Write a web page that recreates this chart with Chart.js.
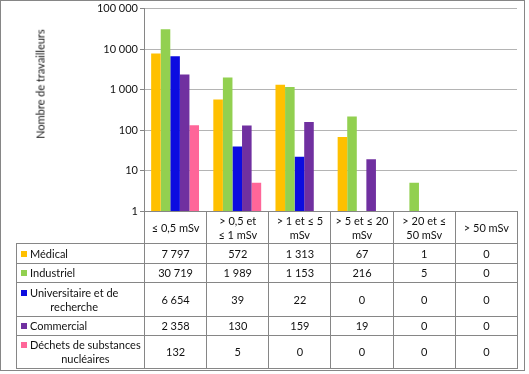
<!DOCTYPE html>
<html>
<head>
<meta charset="utf-8">
<script src="https://cdn.jsdelivr.net/npm/chart.js@4.4.1/dist/chart.umd.min.js"></script>
<style>
  html, body { margin: 0; padding: 0; background: #fff; }
  #wrap { position: relative; width: 529px; height: 374px; font-family: Lato, "Open Sans", sans-serif; color: #111; }
  #frame { position: absolute; left: 0; top: 0; width: 523px; height: 369px; border: 1px solid #868686; pointer-events: none; }
  #graph { position: absolute; left: 0; top: 0; }
  #titreY { position: absolute; left: 40px; top: 84px; transform: translate(-50%, -50%) rotate(-90deg); font-size: 11px; white-space: nowrap; }
  #tableau { position: absolute; left: 16px; top: 211px; border-collapse: collapse; table-layout: fixed; width: 501px; font-size: 11px; line-height: 14px; }
  #tableau td { border: 1px solid #868686; text-align: center; padding: 0; }
  #tableau td.vide { border: none; border-right: 1px solid #868686; }
  #tableau td.serie { text-align: left; padding-left: 4px; }
  .cle { display: inline-block; width: 6px; height: 6px; margin-right: 3px; vertical-align: top; margin-top: 4px; }
  .nom { display: inline-block; text-align: center; vertical-align: top; }
</style>
</head>
<body>
<div id="wrap">
  <canvas id="graph" width="529" height="374"></canvas>
  <div id="titreY">Nombre de travailleurs</div>
  <table id="tableau"></table>
  <div id="frame"></div>
</div>
<script>
const categories = ["≤ 0,5 mSv", "> 0,5 et\n≤ 1 mSv", "> 1 et ≤ 5\nmSv", "> 5 et ≤ 20\nmSv", "> 20 et ≤\n50 mSv", "> 50 mSv"];
const series = ["Médical", "Industriel", "Universitaire et de\nrecherche", "Commercial", "Déchets de substances\nnucléaires"];
const couleurs = ["#FFC000", "#92D050", "#0C0CE0", "#7030A0", "#FF6699"];
const medical = [7797, 572, 1313, 67, 1, 0];
const industriel = [30719, 1989, 1153, 216, 5, 0];
const universitaire = [6654, 39, 22, 0, 0, 0];
const commercial = [2358, 130, 159, 19, 0, 0];
const dechets = [132, 5, 0, 0, 0, 0];
const valeurs = [medical, industriel, universitaire, commercial, dechets];
const ticksY = [1, 10, 100, 1000, 10000, 100000];

const formater = n => String(n).replace(/\B(?=(\d{3})+(?!\d))/g, " ");
const police = { family: "Lato, 'Open Sans', sans-serif", size: 11 };

new Chart(document.getElementById("graph"), {
  type: "bar",
  data: {
    labels: categories,
    datasets: series.map((s, i) => ({
      label: s,
      data: valeurs[i].map(v => (v > 0 ? v : null)),
      backgroundColor: couleurs[i],
      borderWidth: 0,
      categoryPercentage: 0.77,
      barPercentage: 1
    }))
  },
  options: {
    responsive: false,
    animation: false,
    layout: { padding: { top: 7, right: 12, bottom: 163, left: 0 } },
    plugins: { legend: { display: false }, tooltip: { enabled: false } },
    scales: {
      x: { display: false },
      y: {
        type: "logarithmic",
        min: 1,
        max: 100000,
        afterFit: scale => { scale.width = 144; },
        afterBuildTicks: scale => { scale.ticks = ticksY.map(v => ({ value: v })); },
        border: { color: "#868686" },
        grid: { color: "#B4B4B4", tickColor: "#868686", tickLength: 4 },
        ticks: {
          color: "#111",
          font: police,
          padding: 2,
          callback: v => formater(v)
        }
      }
    }
  }
});

// tableau de données sous le graphique
const tableau = document.getElementById("tableau");
const hauteurs = [32, 20, 19, 34, 19, 33];
let html = '<colgroup><col style="width:128px">' + categories.map(() => '<col style="width:62.17px">').join("") + "</colgroup>";
html += '<tr style="height:' + hauteurs[0] + 'px"><td class="vide"></td>' +
  categories.map(c => "<td>" + c.replace("\n", "<br>") + "</td>").join("") + "</tr>";
series.forEach((s, i) => {
  html += '<tr style="height:' + hauteurs[i + 1] + 'px"><td class="serie"><span class="cle" style="background:' + couleurs[i] + '"></span>' +
    '<span class="nom">' + s.replace("\n", "<br>") + "</span></td>" +
    valeurs[i].map(v => "<td>" + formater(v) + "</td>").join("") + "</tr>";
});
tableau.innerHTML = html;
</script>
</body>
</html>
